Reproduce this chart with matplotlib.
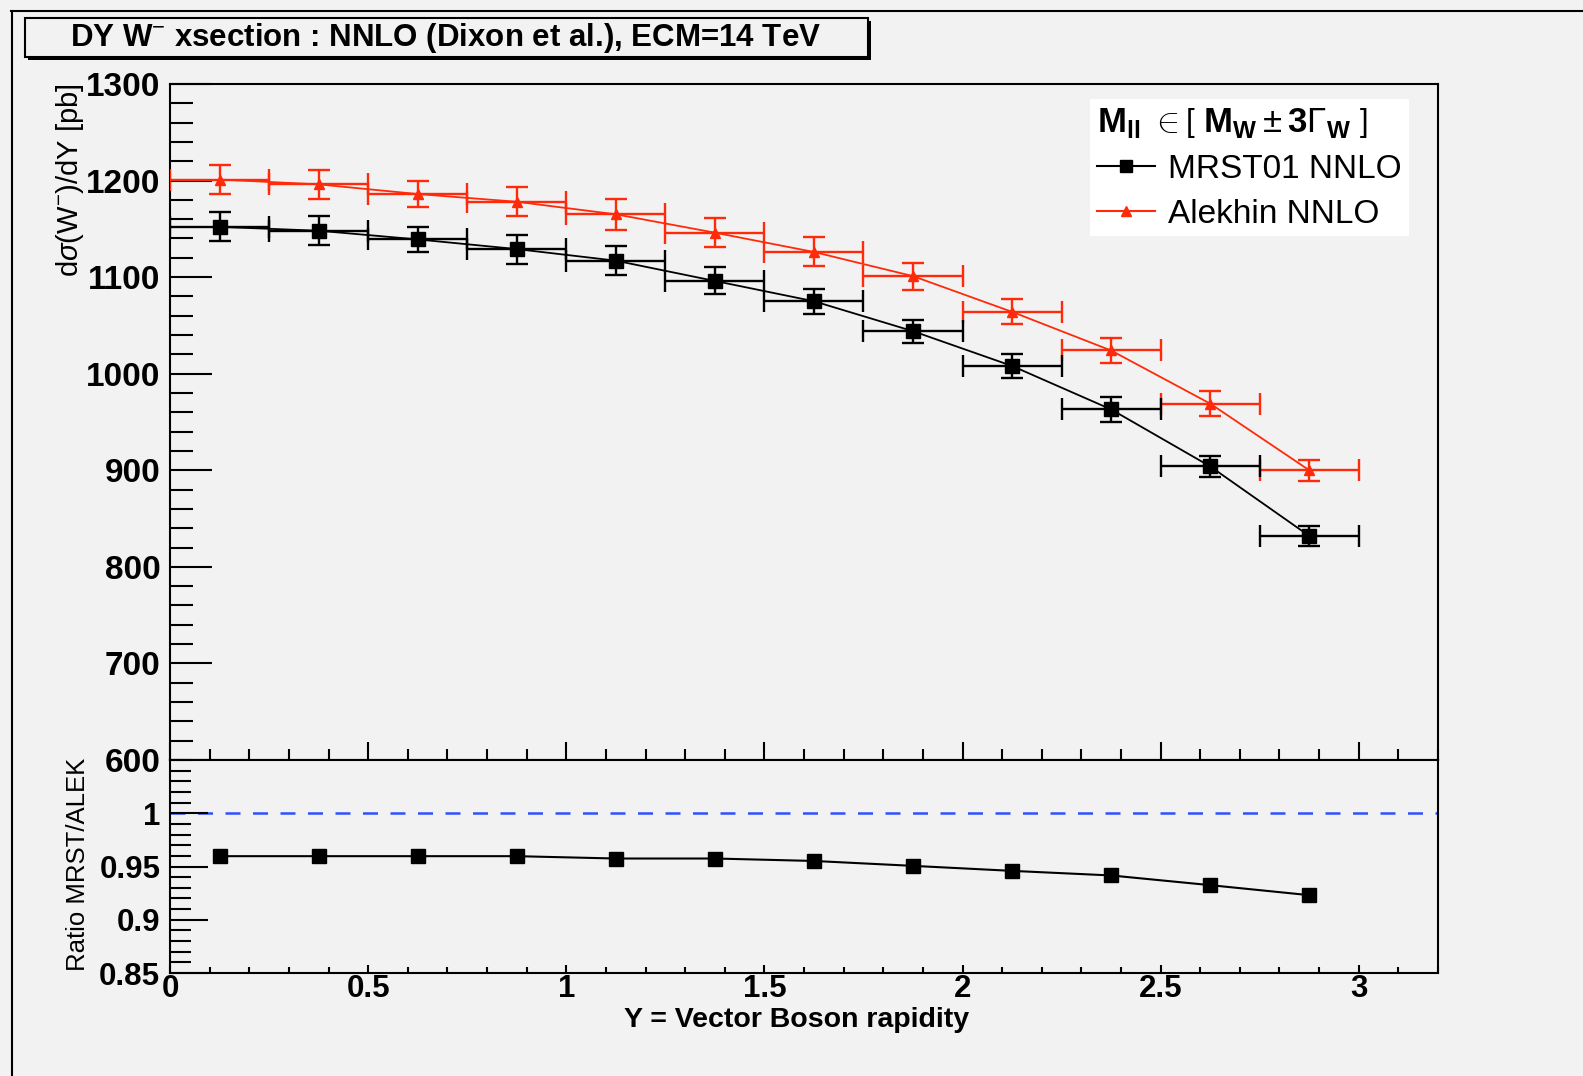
import numpy as np
import matplotlib
matplotlib.use("Agg")
import matplotlib.pyplot as plt
from matplotlib.lines import Line2D
from matplotlib.patches import Rectangle
from matplotlib.ticker import MultipleLocator, FixedLocator, FuncFormatter

plt.rcParams['font.family'] = ['Liberation Sans', 'DejaVu Sans']
plt.rcParams['mathtext.fontset'] = 'custom'
plt.rcParams['mathtext.rm'] = 'Liberation Sans'
plt.rcParams['mathtext.bf'] = 'Liberation Sans:bold'
plt.rcParams['mathtext.it'] = 'Liberation Sans:italic'

# rapidity bins (width 0.25)
bin_edges = np.array([0.0, 0.25, 0.5, 0.75, 1.0, 1.25, 1.5, 1.75, 2.0, 2.25, 2.5, 2.75, 3.0])

# d sigma / dY [pb]
mrst = [1152, 1148, 1139, 1129, 1117, 1096, 1075, 1044, 1008, 963, 904, 832]
mrst_err = [15, 15, 13, 15, 15, 14, 13, 12, 12, 13, 11, 10]
alekhin = [1201, 1196, 1186, 1178, 1165, 1146, 1126, 1101, 1064, 1024, 969, 900]
alekhin_err = [15, 15, 13, 15, 16, 15, 15, 14, 13, 13, 13, 11]

# ratio MRST / Alekhin
ratio = [0.9597, 0.9597, 0.9597, 0.9597, 0.9575, 0.9575, 0.9552, 0.9506, 0.9459, 0.9416, 0.9325, 0.9231]

centers = 0.5 * (bin_edges[:-1] + bin_edges[1:])
half_w = 0.5 * np.diff(bin_edges)

bg = '#f2f2f2'
red = '#ff2a0a'

fig = plt.figure(figsize=(15.83, 10.76), dpi=100, facecolor=bg)
ax1 = fig.add_axes([0.1074, 0.2937, 0.801, 0.6283], facecolor=bg)
ax2 = fig.add_axes([0.1074, 0.0957, 0.801, 0.198], facecolor=bg)

# top panel: cross sections
ax1.plot(centers, alekhin, '-', color=red, lw=1.3, zorder=2)
ax1.errorbar(centers, alekhin, xerr=half_w, yerr=alekhin_err, fmt='^', color=red,
             ms=7.5, capsize=8, elinewidth=1.7, capthick=1.7, zorder=3)
ax1.plot(centers, mrst, '-', color='black', lw=1.3, zorder=2)
ax1.errorbar(centers, mrst, xerr=half_w, yerr=mrst_err, fmt='s', color='black',
             ms=10.5, capsize=8, elinewidth=1.7, capthick=1.7, zorder=3)

ax1.set_xlim(0, 3.2)
ax1.set_ylim(600, 1300)
ax1.yaxis.set_major_locator(MultipleLocator(100))
ax1.yaxis.set_minor_locator(MultipleLocator(20))
ax1.xaxis.set_major_locator(MultipleLocator(0.5))
ax1.xaxis.set_minor_locator(MultipleLocator(0.1))
ax1.tick_params(axis='x', which='both', direction='in', bottom=True, top=False,
                labelbottom=False, width=1.5)
ax1.tick_params(axis='x', which='major', length=13)
ax1.tick_params(axis='x', which='minor', length=8)
ax1.tick_params(axis='y', which='both', direction='in', left=True, right=False,
                width=1.5, labelsize=24, pad=7)
ax1.tick_params(axis='y', which='major', length=30)
ax1.tick_params(axis='y', which='minor', length=16.5)
for lab in ax1.get_yticklabels():
    lab.set_fontweight('bold')

handles = [Line2D([], [], color='black', marker='s', ms=9, lw=1.5),
           Line2D([], [], color=red, marker='^', ms=7, lw=1.5)]
header = r"$\mathbf{M_{ll}}\ \in \left[\ \mathbf{M_{W}} \pm \mathbf{3}\Gamma_{\mathbf{W}}\ \right]$"
leg = ax1.legend(handles, ['MRST01 NNLO', 'Alekhin NNLO'], title=header,
                 loc='upper left', bbox_to_anchor=(0.7256, 0.9778), borderaxespad=0,
                 fontsize=24, title_fontsize=25, frameon=True, fancybox=False,
                 facecolor='white', edgecolor='none', framealpha=1,
                 handlelength=1.75, handletextpad=0.4, labelspacing=0.42,
                 borderpad=0.2, alignment='left')

# bottom panel: ratio
ax2.axhline(1.0, color='#3050ff', lw=1.8, dashes=(6, 5), zorder=1)
ax2.plot(centers, ratio, 's-', color='black', ms=10, lw=1.5, zorder=3)
ax2.set_xlim(0, 3.2)
ax2.set_ylim(0.85, 1.05)
ax2.yaxis.set_major_locator(FixedLocator([0.85, 0.9, 0.95, 1.0]))
ax2.yaxis.set_minor_locator(MultipleLocator(0.01))
ax2.xaxis.set_major_locator(MultipleLocator(0.5))
ax2.xaxis.set_minor_locator(MultipleLocator(0.1))
fmt = FuncFormatter(lambda v, p: '%g' % round(v, 3))
ax2.yaxis.set_major_formatter(fmt)
ax2.xaxis.set_major_formatter(fmt)
ax2.tick_params(axis='x', which='both', direction='in', bottom=True, top=False,
                width=1.5, labelsize=22.5, pad=1)
ax2.tick_params(axis='x', which='major', length=6)
ax2.tick_params(axis='x', which='minor', length=4)
ax2.tick_params(axis='y', which='both', direction='in', left=True, right=False,
                width=1.5, labelsize=22.5, pad=7)
ax2.tick_params(axis='y', which='major', length=27)
ax2.tick_params(axis='y', which='minor', length=15)
for lab in ax2.get_yticklabels() + ax2.get_xticklabels():
    lab.set_fontweight('bold')

for ax in (ax1, ax2):
    for s in ax.spines.values():
        s.set_linewidth(1.5)

# axis titles
W, H = 1583.0, 1076.0
fig.text(70 / W, 1 - 83 / H, r"d$\sigma$(W$^{-}$)/dY [pb]", rotation=90,
         ha='center', va='top', fontsize=21)
fig.text(78 / W, 1 - 864 / H, "Ratio MRST/ALEK", rotation=90,
         ha='center', va='center', fontsize=18.5)
fig.text(797 / W, 1 - 1027 / H, "Y = Vector Boson rapidity", ha='center',
         va='baseline', fontsize=20.5, fontweight='bold')

# title box with shadow
fig.patches.append(Rectangle((28 / W, 1 - 60 / H), 843 / W, 39 / H,
                             transform=fig.transFigure, facecolor='black',
                             edgecolor='none', zorder=1))
fig.patches.append(Rectangle((25 / W, 1 - 57 / H), 843 / W, 39 / H,
                             transform=fig.transFigure, facecolor=bg,
                             edgecolor='black', lw=1.5, zorder=2))
fig.text(446 / W, 1 - 38 / H, "DY W$^{-}$ xsection : NNLO (Dixon et al.), ECM=14 TeV",
         ha='center', va='center', fontsize=22.5, fontweight='bold', zorder=3)

# outer pad frame
fig.lines.append(Line2D([11 / W, 1], [1 - 10.5 / H, 1 - 10.5 / H],
                        transform=fig.transFigure, color='black', lw=1.5))
fig.lines.append(Line2D([11.5 / W, 11.5 / W], [0, 1 - 10.5 / H],
                        transform=fig.transFigure, color='black', lw=1.5))

fig.savefig('out.png', dpi=100, facecolor=bg)
